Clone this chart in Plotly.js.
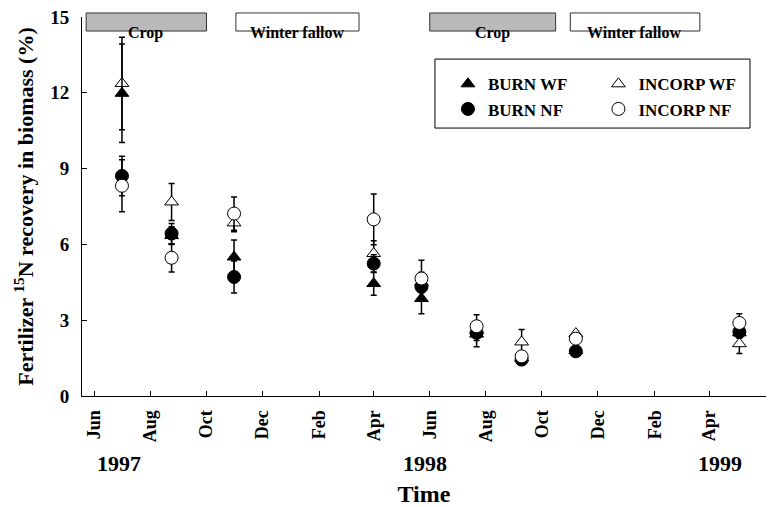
<!DOCTYPE html>
<html>
<head>
<meta charset="utf-8">
<script src="https://cdn.plot.ly/plotly-3.0.1.min.js"></script>
<style>html,body{margin:0;padding:0;background:#fff;}#chart{width:770px;height:507px;}</style>
</head>
<body>
<div id="chart"></div>
<script>
// ---- data ----
const dates = ["1997-07-01","1997-08-24","1997-10-31","1998-04-01","1998-05-23","1998-07-22","1998-09-09","1998-11-07","1999-05-04"];
const burnWF      = [11.98, 6.35, 5.50, 4.45, 3.86, 2.45, 1.50, 1.80, 2.50];
const burnWFerr   = [1.95, 0.35, 0.67, 0.46, 0.60, 0.50, 0.10, 0.10, 0.20];
const burnNF      = [8.71, 6.43, 4.71, 5.24, 4.32, 2.50, 1.44, 1.77, 2.54];
const burnNFerr   = [0.78, 0.40, 0.63, 0.35, 0.50, 0.30, 0.10, 0.10, 0.20];
const incorpWF    = [12.37, 7.68, 6.85, 5.64, 4.50, 2.60, 2.14, 2.47, 2.07];
const incorpWFerr = [1.83, 0.73, 0.35, 0.50, 0.40, 0.30, 0.49, 0.10, 0.39];
const incorpNF    = [8.32, 5.47, 7.22, 6.99, 4.65, 2.76, 1.57, 2.27, 2.89];
const incorpNFerr = [1.03, 0.56, 0.66, 1.00, 0.72, 0.46, 0.15, 0.10, 0.37];
const seasonLabels = ["Crop", "Winter fallow", "Crop", "Winter fallow"];
const seasonStart  = ["1997-05-23", "1997-11-02", "1998-06-01", "1998-11-01"];
const seasonEnd    = ["1997-10-01", "1998-03-16", "1998-10-16", "1999-03-22"];
const yearLabels = ["1997", "1998", "1999"];

const serif = "Liberation Serif, Times New Roman, serif";
function eb(arr){ return {type:'data', array:arr, visible:true, color:'black', thickness:1.5, width:3}; }

const traces = [
  {name:'INCORP WF', x:dates, y:incorpWF, error_y:eb(incorpWFerr), mode:'markers', type:'scatter', legend:'legend2',
   marker:{symbol:'triangle-up', size:12, color:'white', line:{color:'black', width:1}}},
  {name:'BURN WF', x:dates, y:burnWF, error_y:eb(burnWFerr), mode:'markers', type:'scatter', legend:'legend',
   marker:{symbol:'triangle-up', size:12, color:'black', line:{color:'black', width:1}}},
  {name:'BURN NF', x:dates, y:burnNF, error_y:eb(burnNFerr), mode:'markers', type:'scatter', legend:'legend',
   marker:{symbol:'circle', size:13, color:'black', line:{color:'black', width:1}}},
  {name:'INCORP NF', x:dates, y:incorpNF, error_y:eb(incorpNFerr), mode:'markers', type:'scatter', legend:'legend2',
   marker:{symbol:'circle', size:13, color:'white', line:{color:'black', width:1}}}
];

const shapes = seasonLabels.map((s,i)=>({
  type:'rect', xref:'x', yref:'paper', x0:seasonStart[i], x1:seasonEnd[i], y0:0.963, y1:1.0106,
  fillcolor: s==='Crop' ? '#bababa' : 'white', line:{color:'#333', width:1}, layer:'above'
}));
shapes.push({type:'rect', xref:'paper', yref:'paper', x0:0.516, x1:0.9766, y0:0.707, y1:0.889,
  line:{color:'black', width:1}, fillcolor:'rgba(0,0,0,0)'});

const annotations = seasonLabels.map((s,i)=>{
  const a = new Date(seasonStart[i]).getTime(), b = new Date(seasonEnd[i]).getTime();
  const mid = new Date((a+b)/2).toISOString().slice(0,10);
  return {text:s, xref:'x', yref:'paper', x:mid, y:0.987, showarrow:false,
    font:{family:serif, size:16, weight:700, color:'black'}};
});
const yearX = [0.0197, 0.5015, 0.968];
yearLabels.forEach((t,i)=>annotations.push({text:t, xref:'paper', yref:'paper', x:yearX[i], y:-0.178,
  yanchor:'middle', showarrow:false, font:{family:serif, size:22, weight:700, color:'black'}}));

const layout = {
  width:770, height:507,
  margin:{l:82, r:4, t:17, b:111},
  paper_bgcolor:'white', plot_bgcolor:'white',
  showlegend:true,
  xaxis:{type:'date', range:['1997-05-18 12:00','1999-06-02'], tick0:'1997-06-01', dtick:'M2', tickformat:'%b',
    tickangle:-90, ticks:'inside', ticklen:5, tickcolor:'black', showline:true, linecolor:'black', linewidth:1,
    showgrid:false, zeroline:false, ticklabelstandoff:6,
    tickfont:{family:serif, size:18, weight:700, color:'black'},
    title:{text:'Time', font:{family:serif, size:24, weight:700, color:'black'}, standoff:48}},
  yaxis:{range:[0,15], dtick:3, ticks:'inside', ticklen:5, tickcolor:'black', showline:true, linecolor:'black', linewidth:1,
    showgrid:false, zeroline:false, ticklabelstandoff:8,
    tickfont:{family:serif, size:19, weight:700, color:'black'},
    title:{text:'Fertilizer <sup>15</sup>N recovery in biomass (%)', font:{family:serif, size:22, weight:700, color:'black'}, standoff:10}},
  legend:{x:0.535, y:0.87, xanchor:'left', yanchor:'top', bgcolor:'rgba(0,0,0,0)', borderwidth:0,
    font:{family:serif, size:17, weight:700, color:'black'}, tracegroupgap:0},
  legend2:{x:0.755, y:0.87, xanchor:'left', yanchor:'top', bgcolor:'rgba(0,0,0,0)', borderwidth:0,
    font:{family:serif, size:17, weight:700, color:'black'}, tracegroupgap:0},
  shapes:shapes, annotations:annotations
};

Plotly.newPlot('chart', traces, layout, {displayModeBar:false, staticPlot:true});
</script>
</body>
</html>
